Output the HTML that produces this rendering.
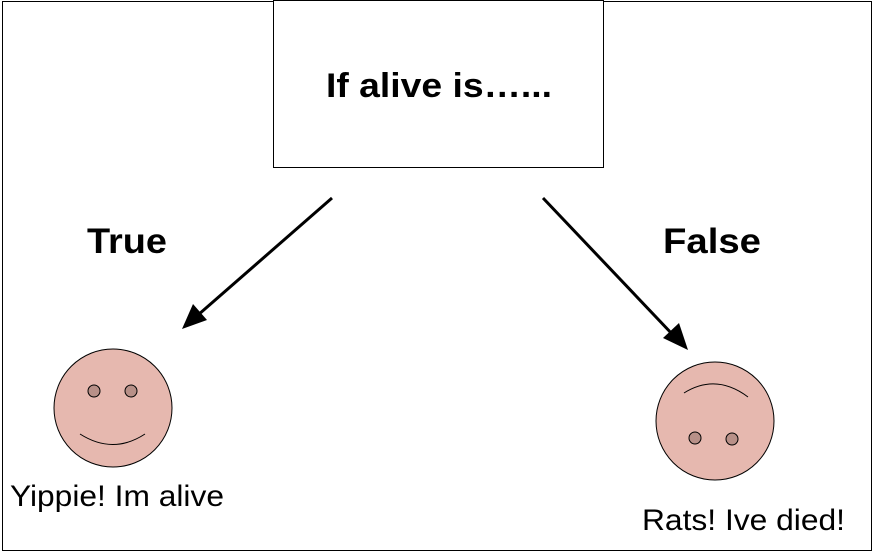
<!DOCTYPE html>
<html><head><style>
html,body{margin:0;padding:0;background:#fff;}
</style></head><body>
<svg width="873" height="554" xmlns="http://www.w3.org/2000/svg" style="display:block">
<rect x="2.5" y="1.5" width="869" height="549" fill="#fff" stroke="#000" stroke-width="1"/>
<rect x="273.5" y="0.5" width="330" height="167" fill="#fff" stroke="#000" stroke-width="1"/>
<text x="326" y="97" textLength="226" lengthAdjust="spacingAndGlyphs" font-family="Liberation Sans, sans-serif" font-weight="bold" font-size="34">If alive is…...</text>
<text x="87" y="253" textLength="80" lengthAdjust="spacingAndGlyphs" font-family="Liberation Sans, sans-serif" font-weight="bold" font-size="35">True</text>
<text x="663" y="253" textLength="98" lengthAdjust="spacingAndGlyphs" font-family="Liberation Sans, sans-serif" font-weight="bold" font-size="35">False</text>
<line x1="332" y1="198" x2="198" y2="315" stroke="#000" stroke-width="3"/>
<polygon points="182,329 193,304 207,320" fill="#000"/>
<line x1="543" y1="198" x2="674" y2="336" stroke="#000" stroke-width="3"/>
<polygon points="688,350 663,338 679,323" fill="#000"/>
<circle cx="113" cy="408" r="59" fill="#e6b8af" stroke="#000" stroke-width="1"/>
<circle cx="94" cy="391" r="6" fill="#b89088" stroke="#000" stroke-width="1"/>
<circle cx="131" cy="391" r="6" fill="#b89088" stroke="#000" stroke-width="1"/>
<path d="M80,434 Q113,455 145,434" fill="none" stroke="#000" stroke-width="1"/>
<text x="10" y="506" textLength="214" lengthAdjust="spacingAndGlyphs" font-family="Liberation Sans, sans-serif" font-size="30">Yippie! Im alive</text>
<circle cx="715" cy="421" r="59" fill="#e6b8af" stroke="#000" stroke-width="1"/>
<circle cx="695" cy="438" r="6" fill="#b89088" stroke="#000" stroke-width="1"/>
<circle cx="732" cy="439" r="6" fill="#b89088" stroke="#000" stroke-width="1"/>
<path d="M684,393 Q716,373 748,397" fill="none" stroke="#000" stroke-width="1"/>
<text x="642" y="530" textLength="203" lengthAdjust="spacingAndGlyphs" font-family="Liberation Sans, sans-serif" font-size="30">Rats! Ive died!</text>
</svg>
</body></html>
